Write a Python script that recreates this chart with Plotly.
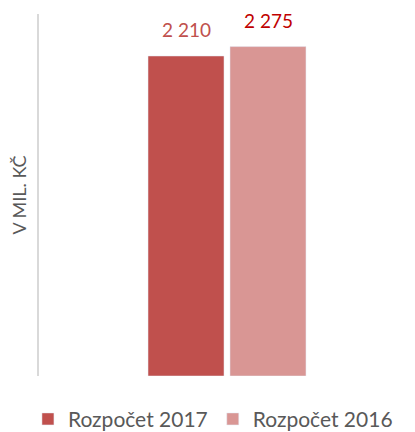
import plotly.graph_objects as go

categories = ["Výdaje"]
series_names = ["Rozpočet 2017", "Rozpočet 2016"]
values_2017 = [2210]
values_2016 = [2275]
label_2017 = "2 210"
label_2016 = "2 275"

bar_colors = ["#C0504D", "#D99694"]
label_colors = ["#C0504D", "#C00000"]

fig = go.Figure()
series = [
    (series_names[0], values_2017, label_2017, bar_colors[0], label_colors[0], -41),
    (series_names[1], values_2016, label_2016, bar_colors[1], label_colors[1], 41),
]
for name, vals, lab, col, lcol, xs in series:
    fig.add_trace(go.Bar(
        x=categories, y=vals, name=name, marker_color=col,
        hoverinfo="skip",
    ))
    fig.add_annotation(x=categories[0], y=vals[0], text=lab, showarrow=False,
                       xref="x", yref="y", yanchor="bottom", xanchor="center",
                       xshift=xs, yshift=13,
                       font=dict(family="Lato", size=19, color=lcol))

# page body has an 8px default margin, so the figure is 8px smaller
fig.update_layout(
    width=407, height=424,
    margin=dict(l=31, r=0, t=6, b=56, autoexpand=False),
    paper_bgcolor="white", plot_bgcolor="white",
    barmode="group", bargap=0.564, bargroupgap=0.073,
    showlegend=True,
    legend=dict(orientation="h", x=0.049, xanchor="left", y=0.03, yanchor="middle",
                xref="container", yref="container",
                font=dict(family="Lato", size=21, color="#595959"),
                itemwidth=30),
)
fig.update_yaxes(range=[0, 2500], showticklabels=False, showgrid=False, zeroline=False,
                 showline=True, linecolor="#D9D9D9", linewidth=2, ticks="", automargin=False,
                 title=dict(text="V MIL. KČ", font=dict(family="Lato", size=18, color="#595959"),
                            standoff=8))
fig.update_xaxes(type="category", showticklabels=False, showgrid=False, zeroline=False,
                 showline=False, automargin=False)

fig.write_html("out.html")
